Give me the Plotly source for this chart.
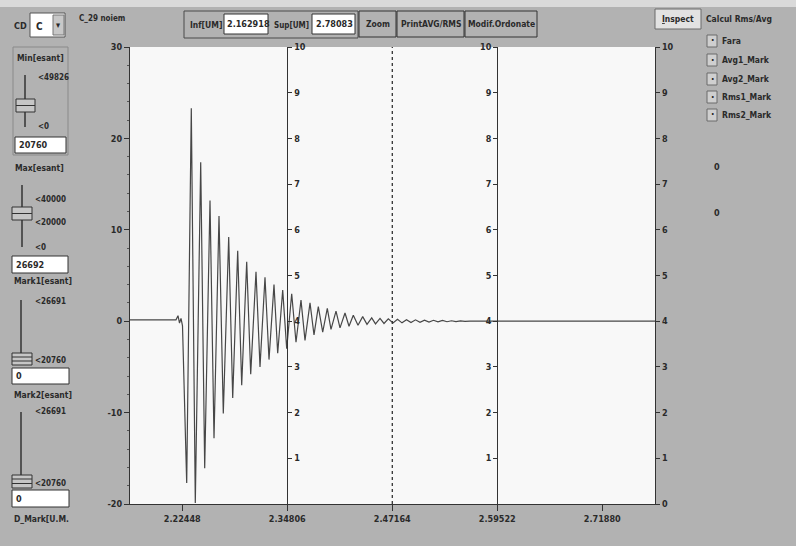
import plotly.graph_objects as go

# ---------------- data ----------------
t_signal = [2.16292, 2.21706, 2.21941, 2.22118, 2.22295, 2.22471, 2.22965,
            2.23507, 2.23978, 2.24613, 2.25084, 2.25708, 2.26179, 2.26767, 2.27273,
            2.27909, 2.28380, 2.28968, 2.29439, 2.30027, 2.30498, 2.31122, 2.31593,
            2.32181, 2.32652, 2.33240, 2.33676, 2.34264, 2.34735, 2.35324, 2.35830,
            2.36418, 2.36889, 2.37478, 2.37948, 2.38455, 2.38972, 2.39514, 2.39949,
            2.40538, 2.41009, 2.41597, 2.42068, 2.42574, 2.43127, 2.43680, 2.44186,
            2.44740, 2.45187, 2.45717, 2.46187, 2.46693, 2.47247, 2.47776, 2.48306,
            2.48836, 2.49365, 2.49895, 2.50424, 2.50954, 2.51484, 2.52013, 2.52543,
            2.53073, 2.53602, 2.54132, 2.54662, 2.55191, 2.55721, 2.56309, 2.78083]
v_signal = [0.15, 0.15, 0.6, -0.2, 0.3, -0.5, -17.7,
            23.3, -19.9, 17.4, -16.1, 13.2, -12.8, 11.5, -10.1,
            9.2, -8.4, 7.7, -7.0, 6.5, -5.8, 5.4, -5.0,
            4.8, -4.2, 4.0, -3.5, 3.4, -3.0, 3.0, -2.3,
            2.3, -2.1, 2.0, -1.5, 1.6, -1.2, 1.4, -0.9,
            1.1, -0.73, 0.9, -0.55, 0.65, -0.45, 0.5, -0.35,
            0.36, -0.3, 0.3, -0.25, 0.25, -0.2, 0.2, -0.18,
            0.17, -0.15, 0.15, -0.13, 0.12, -0.1, 0.1, -0.08,
            0.08, -0.06, 0.05, -0.05, 0.03, -0.03, 0.0, 0.0]

x_range = [2.162918, 2.78083]
x_tick_vals = [2.22448, 2.34806, 2.47164, 2.59522, 2.71880]
x_tick_text = ["2.22448", "2.34806", "2.47164", "2.59522", "2.71880"]
y_range = [-20, 30]
y_tick_vals = [-20, -10, 0, 10, 20, 30]
aux_range = [0, 10]
aux_ticks_mid = [1, 2, 3, 4, 5, 6, 7, 8, 9, 10]
aux_ticks_right = [0, 1, 2, 3, 4, 5, 6, 7, 8, 9, 10]
solid_markers = [2.34806, 2.59522]
dashed_markers = [2.47164]

# ---------------- layout helpers ----------------
W, H = 796, 546
L, R, T, B = 130, 655, 47, 504
FONT = "Liberation Sans Narrow, Arial Narrow, DejaVu Sans Condensed, sans-serif"
TXT = "#2a2a2a"
BG = "#b2b2b2"
UI = 9


def px(x):
    return (x - L) / (R - L)


def py(y):
    return (B - y) / (B - T)


shapes = []
annotations = []


def rect(x0, y0, x1, y1, fill="rgba(0,0,0,0)", line="#3a3a3a", width=1):
    shapes.append(dict(type="rect", xref="paper", yref="paper",
                       x0=px(x0), x1=px(x1), y0=py(y0), y1=py(y1),
                       fillcolor=fill, line=dict(color=line, width=width), layer="above"))


def seg(x0, y0, x1, y1, color="#3a3a3a", width=1):
    shapes.append(dict(type="line", xref="paper", yref="paper",
                       x0=px(x0), x1=px(x1), y0=py(y0), y1=py(y1),
                       line=dict(color=color, width=width), layer="above"))


def text(x, y, s, size=UI, anchor="left", bold=True, color=TXT):
    annotations.append(dict(xref="paper", yref="paper", x=px(x), y=py(y),
                            text=("<b>%s</b>" % s) if bold else s, showarrow=False,
                            xanchor=anchor, yanchor="middle",
                            font=dict(family=FONT, size=size, color=color)))


# top light scan band
rect(0, 0, 796, 7, fill="#dadada", line="rgba(0,0,0,0)", width=0)

# ---- top bar ----
text(12, 26, "CD")
rect(30, 13, 65, 37, fill="#ffffff", line="#555555")
text(34, 26, "C", size=10)
rect(53, 15, 64, 35, fill="#c8c8c8", line="#777777")
text(58.5, 25, "▾", size=9, anchor="center")
text(77, 18, "C_29 noiem", size=8)

rect(184, 11, 358, 38, line="#4a4a4a")
text(188, 25, "Inf[UM]", size=8.5)
rect(224, 14, 268, 34, fill="#ffffff", line="#333333")
text(225, 24, "2.162918", size=9)
text(272, 25, "Sup[UM]", size=8)
rect(312, 14, 355, 34, fill="#ffffff", line="#333333")
text(314, 24, "2.78083", size=9)

rect(359, 11, 396, 37, fill=BG, line="#333333")
text(377.5, 24, "Zoom", anchor="center", size=8.5)
rect(397, 11, 464, 37, fill=BG, line="#333333")
text(430.5, 24, "PrintAVG/RMS", anchor="center", size=8.5)
rect(465, 11, 537, 37, fill=BG, line="#333333")
text(501, 24, "Modif.Ordonate", anchor="center", size=8.5)

rect(655, 9, 701, 29, fill="#e2e2e2", line="#6a6a6a")
text(678, 19, "<u>I</u>nspect", anchor="center", size=8.5)
text(704, 19, "Calcul Rms/Avg", size=8.5)
for yy, lab in [(41, "Fara"), (60, "Avg1_Mark"), (79, "Avg2_Mark"),
                (97, "Rms1_Mark"), (115, "Rms2_Mark")]:
    rect(707, yy - 6, 717, yy + 6, fill="#cfcfcf", line="#6a6a6a")
    text(712, yy, "·", size=10, anchor="center")
    text(720, yy, lab, size=8.5)
text(712, 167, "0")
text(712, 213, "0")

# ---- left panel ----
rect(13, 47, 68, 155, line="#8a8a8a")
text(15, 58, "Min[esant]", size=8.5)
seg(25, 75, 25, 127, color="#333333", width=1.5)
rect(16, 99, 35, 112, fill="#c6c6c6", line="#333333")
seg(16, 105.5, 35, 105.5, color="#333333")
text(36, 77, "<49826", size=8)
text(36, 126, "<0", size=8)
rect(15, 137, 66, 153, fill="#ffffff", line="#333333")
text(17, 145, "20760", size=9)

text(13, 168, "Max[esant]", size=8.5)
seg(22, 185, 22, 247, color="#333333", width=1.5)
rect(12, 207, 32, 220, fill="#c6c6c6", line="#333333")
seg(12, 213.5, 32, 213.5, color="#333333")
text(33, 199, "<40000", size=8)
text(33, 223, "<20000", size=8)
text(33, 247, "<0", size=8)
rect(12, 256, 68, 273, fill="#ffffff", line="#333333")
text(14, 264.5, "26692", size=9)

text(12, 281, "Mark1[esant]", size=8.5)
text(33, 301, "<26691", size=8)
seg(21, 300, 21, 353, color="#333333", width=1.5)
rect(12, 353, 32, 365, fill="#c6c6c6", line="#333333")
seg(12, 357, 32, 357, color="#333333")
seg(12, 361, 32, 361, color="#333333")
text(33, 360, "<20760", size=8)
rect(12, 368, 69, 384, fill="#ffffff", line="#333333")
text(14, 376, "0", size=9)

text(12, 395, "Mark2[esant]", size=8.5)
text(33, 412, "<26691", size=8)
seg(21, 412, 21, 475, color="#333333", width=1.5)
rect(12, 475, 32, 488, fill="#c6c6c6", line="#333333")
seg(12, 479, 32, 479, color="#333333")
seg(12, 483.5, 32, 483.5, color="#333333")
text(33, 483, "<20760", size=8)
rect(12, 490, 69, 507, fill="#ffffff", line="#333333")
text(14, 498.5, "0", size=9)
text(12, 519, "D_Mark[U.M.", size=8.5)

# dashed marker line
for xm in dashed_markers:
    shapes.append(dict(type="line", xref="x", yref="paper", x0=xm, x1=xm, y0=0, y1=1,
                       line=dict(color="#333333", width=1.3, dash="dot"), layer="above"))

# ---------------- figure ----------------
fig = go.Figure()
fig.add_trace(go.Scatter(x=t_signal, y=v_signal, mode="lines",
                         line=dict(color="#474747", width=1.2), showlegend=False,
                         hoverinfo="skip"))
for ax in ["y2", "y3", "y4"]:
    fig.add_trace(go.Scatter(x=[], y=[], yaxis=ax, mode="lines", showlegend=False,
                             hoverinfo="skip"))

span = x_range[1] - x_range[0]
pos_mid1 = (solid_markers[0] - x_range[0]) / span
pos_mid2 = (solid_markers[1] - x_range[0]) / span

tickfont = dict(family=FONT, size=9, color=TXT)
aux_common = dict(range=aux_range, overlaying="y", showgrid=False, zeroline=False,
                  showline=True, linecolor="#333333", linewidth=1.2, ticks="outside",
                  ticklen=4, tickcolor="#333333", tickfont=tickfont, fixedrange=True)

fig.update_layout(
    width=W, height=H, autosize=False,
    margin=dict(l=L, r=W - R, t=T, b=H - B, pad=0),
    paper_bgcolor=BG, plot_bgcolor="#f8f8f8",
    font=dict(family=FONT, size=9, color=TXT),
    xaxis=dict(range=x_range, tickvals=x_tick_vals, ticktext=["<b>%s</b>" % s for s in x_tick_text],
               ticks="outside", ticklen=6, tickcolor="#333333", showline=True,
               linecolor="#333333", linewidth=1.2, showgrid=False, zeroline=False,
               tickfont=tickfont, fixedrange=True),
    yaxis=dict(range=y_range, tickvals=y_tick_vals,
               ticktext=["<b>%d</b>" % v for v in y_tick_vals],
               ticks="outside", ticklen=5, tickcolor="#333333", showline=True,
               linecolor="#333333", linewidth=1.2, showgrid=False, zeroline=False,
               minor=dict(dtick=2, ticks="outside", ticklen=2, tickcolor="#555555"),
               tickfont=tickfont, fixedrange=True),
    yaxis2=dict(anchor="free", position=pos_mid1, side="right", tickvals=aux_ticks_mid,
                ticktext=["<b>%d</b>" % v for v in aux_ticks_mid], **aux_common),
    yaxis3=dict(anchor="free", position=pos_mid2, side="left", tickvals=aux_ticks_mid,
                ticktext=["<b>%d</b>" % v for v in aux_ticks_mid], **aux_common),
    yaxis4=dict(anchor="x", side="right", tickvals=aux_ticks_right,
                ticktext=["<b>%d</b>" % v for v in aux_ticks_right], **aux_common),
    shapes=shapes, annotations=annotations,
)

fig.write_html("out.html", config={"displayModeBar": False},
               post_script="document.body.style.margin='0px';")
